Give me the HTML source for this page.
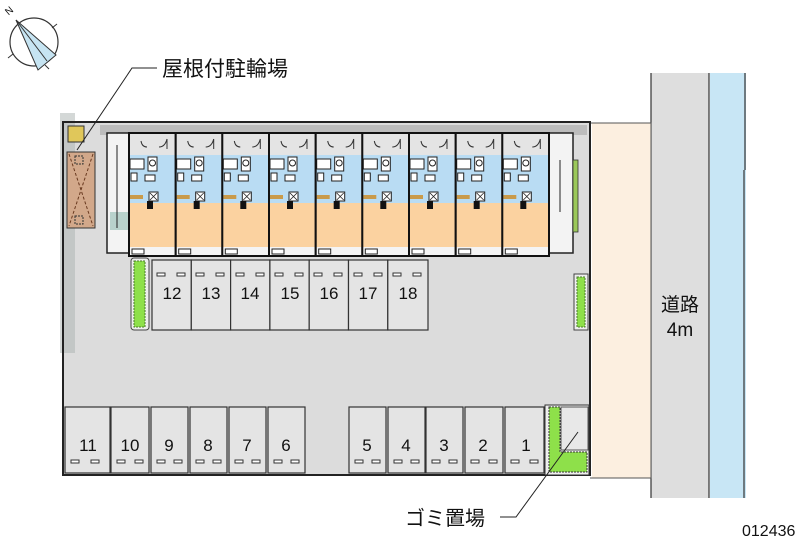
<!DOCTYPE html>
<html><head><meta charset="utf-8"><style>
html,body{margin:0;padding:0;background:#fff;width:800px;height:544px;overflow:hidden}
svg{display:block}
text{font-family:"Liberation Sans","Noto Sans CJK JP",sans-serif;fill:#111}
</style></head><body>
<svg width="800" height="544" viewBox="0 0 800 544" xmlns="http://www.w3.org/2000/svg">
<defs>
<g id="unit">
  <rect x="0" y="0" width="46.7" height="22" fill="#e4e4e4"/>
  <rect x="0" y="22" width="46.7" height="48" fill="#b9dcf3"/>
  <rect x="0" y="70" width="46.7" height="44" fill="#fbd2a0"/>
  <rect x="0" y="114" width="46.7" height="9" fill="#f4f4f4"/>
  <rect x="3" y="116" width="12" height="5" fill="#fff" stroke="#222" stroke-width="1"/>
  <rect x="1" y="26" width="14" height="10" fill="#fff" stroke="#222" stroke-width="1"/>
  <rect x="19" y="24" width="9" height="14" fill="#fff" stroke="#222" stroke-width="1"/>
  <circle cx="23.5" cy="30" r="3" fill="none" stroke="#222" stroke-width="1"/>
  <rect x="2" y="40" width="6" height="8" fill="#fff" stroke="#222" stroke-width="1"/>
  <rect x="16" y="42" width="10" height="6" fill="#fff" stroke="#222" stroke-width="1"/>
  <rect x="1" y="62" width="13" height="4" fill="#c99a4a"/>
  <rect x="20" y="59" width="9" height="9" fill="#fff" stroke="#222" stroke-width="1"/>
  <path d="M21 60l7 7M28 60l-7 7" stroke="#222" stroke-width="0.8"/>
  <rect x="18" y="68" width="6" height="8" fill="#111"/>
  <path d="M30 14q6 0 8 -8M38 6v10" fill="none" stroke="#333" stroke-width="1"/>
  <path d="M18 14q-5 0 -6 -6" fill="none" stroke="#333" stroke-width="1"/>
  <rect x="0" y="0" width="46.7" height="123" fill="none" stroke="#111" stroke-width="2"/>
</g>
<g id="dash"><rect x="0" y="0" width="8" height="3" fill="#fff" stroke="#333" stroke-width="1"/></g>
</defs>

<!-- road & river -->
<rect x="651" y="73" width="58" height="425" fill="#dedede"/>
<rect x="710" y="73" width="36" height="425" fill="#c8e6f5"/>
<path d="M651 73V498M709 73V498M745 73V170M744 170V498" stroke="#333" stroke-width="1.2" fill="none"/>
<!-- beige -->
<rect x="592" y="123" width="59" height="355" fill="#fcefe0"/>
<path d="M590 123H651V478H590" stroke="#555" stroke-width="1" fill="none"/>

<!-- lot -->
<rect x="63" y="122" width="527" height="353" fill="#dcdcdc"/>
<rect x="60" y="113" width="15" height="240" fill="#a9b2b0" opacity="0.5"/>
<path d="M63 122H590V475H63Z" stroke="#222" stroke-width="2" fill="none"/>
<rect x="100" y="125" width="487" height="10" fill="#bcbcbc"/>

<!-- bike -->
<rect x="68" y="126" width="16" height="16" fill="#e0c75a" stroke="#333"/>
<rect x="67" y="152" width="28" height="76" fill="#d2a88a" stroke="#333"/>
<path d="M69 154L93 226M93 154L69 226" stroke="#6a3a20" stroke-dasharray="3,2" stroke-width="1"/>
<rect x="75" y="156" width="8" height="8" fill="none" stroke="#333" stroke-dasharray="2,1"/>
<rect x="75" y="216" width="8" height="8" fill="none" stroke="#333" stroke-dasharray="2,1"/>

<!-- building shadow & stairs -->
<rect x="107" y="133" width="22" height="120" fill="#f3f3f3" stroke="#222" stroke-width="1.5"/>
<rect x="110" y="212" width="18" height="18" fill="#b8d2cc"/>
<path d="M117 145V228" stroke="#222"/>
<rect x="549" y="133" width="24" height="120" fill="#f3f3f3" stroke="#222" stroke-width="1.5"/>
<path d="M560 160V212" stroke="#222"/>
<rect x="573" y="160" width="5" height="72" fill="#9bc85a" stroke="#333" stroke-width="0.8"/>
<rect x="129" y="133" width="420" height="123" fill="#fff" stroke="#111" stroke-width="2"/>
<use href="#unit" x="129" y="133"/><use href="#unit" x="175.7" y="133"/><use href="#unit" x="222.3" y="133"/>
<use href="#unit" x="269" y="133"/><use href="#unit" x="315.7" y="133"/><use href="#unit" x="362.3" y="133"/>
<use href="#unit" x="409" y="133"/><use href="#unit" x="455.7" y="133"/><use href="#unit" x="502.3" y="133"/>

<!-- upper parking -->
<rect x="131" y="258" width="18" height="72" rx="3" fill="#eee" stroke="#444"/>
<rect x="134" y="261" width="11" height="66" fill="#8ee04a" stroke="#4a7a2a" stroke-dasharray="2,1"/>
<rect x="574" y="274" width="14" height="56" fill="#eee" stroke="#444"/>
<rect x="577" y="277" width="8" height="50" fill="#8ee04a" stroke="#4a7a2a" stroke-dasharray="2,1"/>
<g fill="#e4e4e4" stroke="#333" stroke-width="1.2">
<rect x="152" y="260" width="39.3" height="70"/><rect x="191.3" y="260" width="39.3" height="70"/>
<rect x="230.6" y="260" width="39.3" height="70"/><rect x="269.9" y="260" width="39.3" height="70"/>
<rect x="309.2" y="260" width="39.3" height="70"/><rect x="348.5" y="260" width="39.3" height="70"/>
<rect x="387.8" y="260" width="40.2" height="70"/>
</g>
<g>
<use href="#dash" x="157" y="273"/><use href="#dash" x="177" y="273"/>
<use href="#dash" x="196" y="273"/><use href="#dash" x="216" y="273"/>
<use href="#dash" x="236" y="273"/><use href="#dash" x="256" y="273"/>
<use href="#dash" x="275" y="273"/><use href="#dash" x="295" y="273"/>
<use href="#dash" x="314" y="273"/><use href="#dash" x="334" y="273"/>
<use href="#dash" x="354" y="273"/><use href="#dash" x="374" y="273"/>
<use href="#dash" x="393" y="273"/><use href="#dash" x="413" y="273"/>
</g>
<g font-size="17" text-anchor="middle">
<text x="172" y="299">12</text><text x="211" y="299">13</text><text x="250" y="299">14</text>
<text x="290" y="299">15</text><text x="329" y="299">16</text><text x="368" y="299">17</text>
<text x="408" y="299">18</text>
</g>

<!-- lower parking -->
<g fill="#e4e4e4" stroke="#333" stroke-width="1.2">
<rect x="65" y="407" width="45" height="66"/><rect x="111" y="407" width="38" height="66"/>
<rect x="151" y="407" width="37" height="66"/><rect x="190" y="407" width="37" height="66"/>
<rect x="229" y="407" width="37" height="66"/><rect x="268" y="407" width="37" height="66"/>
<rect x="349" y="407" width="37" height="66"/><rect x="388" y="407" width="37" height="66"/>
<rect x="426" y="407" width="37" height="66"/><rect x="465" y="407" width="38" height="66"/>
<rect x="505" y="407" width="39" height="66"/>
</g>
<g>
<use href="#dash" x="71" y="460"/><use href="#dash" x="91" y="460"/>
<use href="#dash" x="117" y="460"/><use href="#dash" x="135" y="460"/>
<use href="#dash" x="157" y="460"/><use href="#dash" x="174" y="460"/>
<use href="#dash" x="196" y="460"/><use href="#dash" x="213" y="460"/>
<use href="#dash" x="235" y="460"/><use href="#dash" x="252" y="460"/>
<use href="#dash" x="274" y="460"/><use href="#dash" x="291" y="460"/>
<use href="#dash" x="355" y="460"/><use href="#dash" x="372" y="460"/>
<use href="#dash" x="394" y="460"/><use href="#dash" x="411" y="460"/>
<use href="#dash" x="432" y="460"/><use href="#dash" x="449" y="460"/>
<use href="#dash" x="471" y="460"/><use href="#dash" x="489" y="460"/>
<use href="#dash" x="511" y="460"/><use href="#dash" x="530" y="460"/>
</g>
<g font-size="17" text-anchor="middle">
<text x="88" y="451">11</text><text x="130" y="451">10</text><text x="169" y="451">9</text>
<text x="208" y="451">8</text><text x="247" y="451">7</text><text x="286" y="451">6</text>
<text x="367" y="451">5</text><text x="406" y="451">4</text><text x="444" y="451">3</text>
<text x="483" y="451">2</text><text x="526" y="451">1</text>
</g>
<!-- trash -->
<rect x="545" y="405" width="44" height="70" fill="#eee" stroke="#333"/>
<rect x="561" y="407" width="27" height="43" fill="#e8e8e8" stroke="#555"/>
<path d="M549 407H560V452H587V472H549Z" fill="#8ee04a" stroke="#333" stroke-dasharray="2,1"/>

<!-- labels -->
<path d="M157 68H132L77 150" stroke="#222" fill="none" stroke-width="1"/>
<text x="162" y="76" font-size="21">屋根付駐輪場</text>
<path d="M500 517H516L578 432" stroke="#222" fill="none" stroke-width="1"/>
<text x="405" y="525" font-size="20">ゴミ置場</text>
<text x="680" y="311" font-size="19" text-anchor="middle">道路</text>
<text x="680" y="336" font-size="19" text-anchor="middle">4m</text>
<text x="742" y="536" font-size="16">012436</text>

<!-- compass -->
<circle cx="34" cy="42" r="24" fill="none" stroke="#333" stroke-width="1.2"/>
<path d="M16 20L56 55L38 70Z" fill="#c6e4f2" stroke="#333" stroke-width="1"/>
<path d="M16 20L47 61" stroke="#333"/>
<path d="M8 58l5 -4M52 28l5-4M45 65l4 4" stroke="#333"/>
<text x="5" y="14" font-size="10" transform="rotate(-40 9 10)">N</text>
</svg>
</body></html>
